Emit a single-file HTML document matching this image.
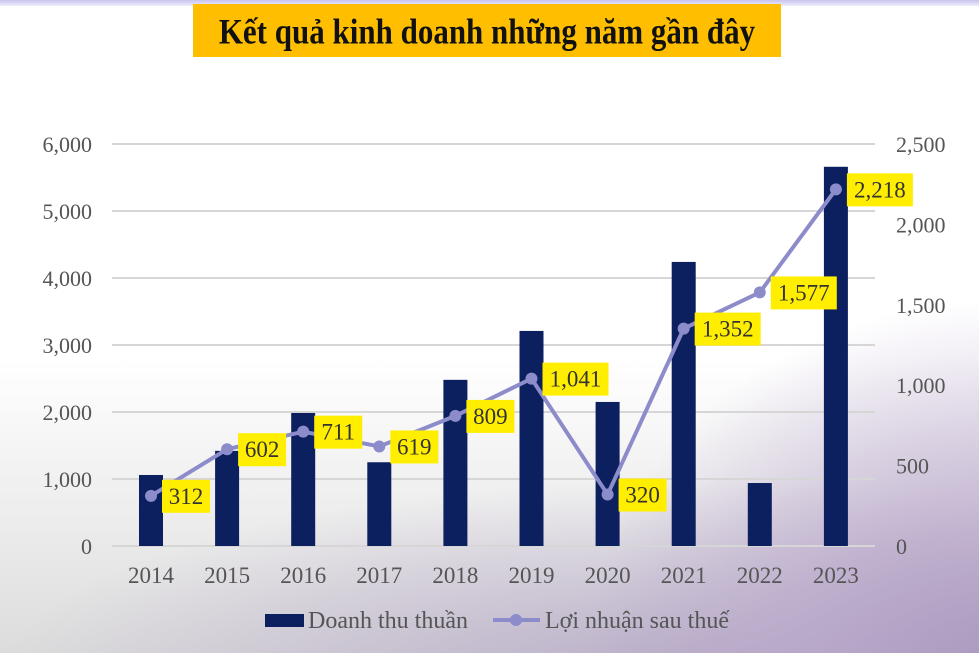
<!DOCTYPE html>
<html><head><meta charset="utf-8"><style>
body{margin:0;width:979px;height:653px;overflow:hidden;font-family:"Liberation Serif",serif;
background:linear-gradient(180deg,#fff 0%,#fff 55%,#ececec 80%,#dcdcdc 100%);position:relative}
#bgp{position:absolute;left:0;top:0;width:979px;height:653px;
background:radial-gradient(ellipse 420px 380px at 1000px 680px,rgba(170,150,190,0.95),rgba(180,160,200,0.6) 50%,rgba(200,190,215,0) 100%),
radial-gradient(ellipse 700px 200px at 700px 680px,rgba(175,160,195,0.8),rgba(200,190,215,0) 100%)}
#topband{position:absolute;left:0;top:0;width:979px;height:6px;background:linear-gradient(180deg,#c8c4ee,#eeeefa)}
#title{position:absolute;left:193px;top:4px;width:588px;height:53px;background:#ffbf00}
#title span{position:absolute;left:0;width:588px;top:2px;text-align:center;line-height:52px;font-weight:bold;font-size:31px;color:#111;transform:scaleY(1.15)}
svg{position:absolute;left:0;top:0}
</style></head><body>
<div id="bgp"></div>
<div id="topband"></div>
<div id="title"><span>Kết quả kinh doanh những năm gần đây</span></div>
<svg id="chart" width="979" height="653"></svg>
<script>
const years=["2014","2015","2016","2017","2018","2019","2020","2021","2022","2023"];
const revenue=[1060,1420,1985,1250,2480,3210,2150,4240,940,5660];
const profit=[312,602,711,619,809,1041,320,1352,1577,2218];
const profitLabels=["312","602","711","619","809","1,041","320","1,352","1,577","2,218"];
const leftTicks=[0,1000,2000,3000,4000,5000,6000];
const leftTickLabels=["0","1,000","2,000","3,000","4,000","5,000","6,000"];
const rightTicks=[0,500,1000,1500,2000,2500];
const rightTickLabels=["0","500","1,000","1,500","2,000","2,500"];
const NS="http://www.w3.org/2000/svg";
const svg=document.getElementById('chart');
const y0=546,yTop=144;
const yL=v=>y0-(v/6000)*(y0-yTop);
const yR=v=>y0-(v/2500)*(y0-yTop);
const xC=i=>151+i*76.1;
function mk(t,a,p){const e=document.createElementNS(NS,t);for(const k in a)e.setAttribute(k,a[k]);(p||svg).appendChild(e);return e;}
leftTicks.forEach((v,i)=>{
 const l=mk('line',{x1:112,x2:875,y1:yL(v),y2:yL(v),stroke:'#d6d6d6','stroke-width':2});
 
 const t=mk('text',{x:92,y:yL(v)+8,'text-anchor':'end','font-size':22,fill:'#555'});t.textContent=leftTickLabels[i];
 
});
rightTicks.forEach((v,i)=>{
 const t=mk('text',{x:896,y:yR(v)+8,'font-size':22,fill:'#555'});t.textContent=rightTickLabels[i];
 
});
years.forEach((yr,i)=>{
 const b=mk('rect',{x:xC(i)-12,y:yL(revenue[i]),width:24,height:y0-yL(revenue[i]),fill:'#0c1f5e'});
 
 const t=mk('text',{x:xC(i),y:583,'text-anchor':'middle','font-size':23,fill:'#555'});t.textContent=yr;
 
});
const pts=profit.map((v,i)=>xC(i)+','+yR(v)).join(' ');
const pl=mk('polyline',{points:pts,fill:'none',stroke:'#8c8cca','stroke-width':4,'stroke-linejoin':'round'});

profit.forEach((v,i)=>{
 const c=mk('circle',{cx:xC(i),cy:yR(v),r:6,fill:'#8c8cca'});
 
 const lab=profitLabels[i];const w=lab.length*9+21;
 const r=mk('rect',{x:xC(i)+11,y:yR(v)-16,width:w,height:33,fill:'#ffee00'});
 
 const t=mk('text',{x:xC(i)+11+w/2,y:yR(v)+8,'text-anchor':'middle','font-size':23,fill:'#333'});t.textContent=lab;
 
});
const g=mk('g',{});
const lr=mk('rect',{x:265,y:614,width:39,height:13,fill:'#0c1f5e'},g);

const lt=mk('text',{x:308,y:628,'font-size':24,fill:'#555'},g);lt.textContent='Doanh thu thuần';

const ll=mk('line',{x1:493,x2:540,y1:620,y2:620,stroke:'#8c8cca','stroke-width':4},g);

const lc=mk('circle',{cx:516,cy:620,r:6,fill:'#8c8cca'},g);

const lt2=mk('text',{x:545,y:628,'font-size':24,fill:'#555'},g);lt2.textContent='Lợi nhuận sau thuế';

</script>
</body></html>
